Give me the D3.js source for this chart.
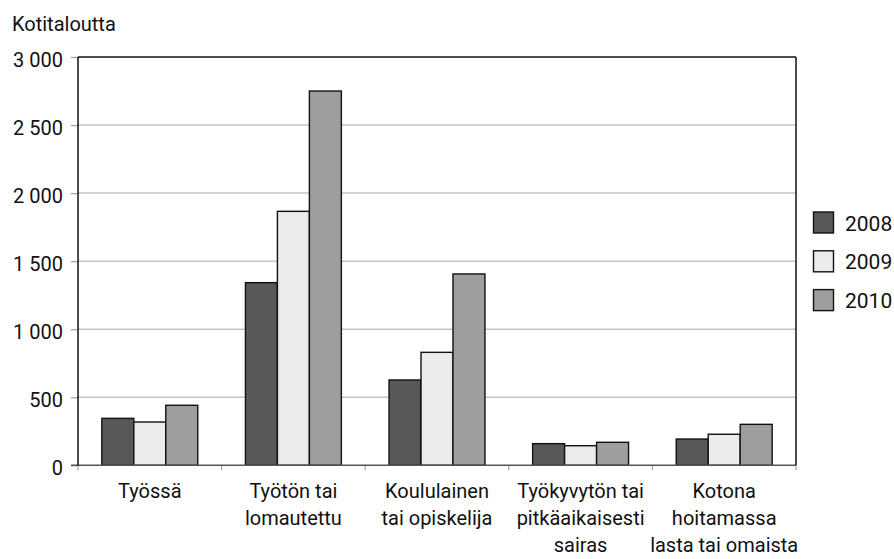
<!DOCTYPE html>
<html><head><meta charset="utf-8">
<script src="https://cdnjs.cloudflare.com/ajax/libs/d3/7.8.5/d3.min.js"></script>
<style>
html,body{margin:0;padding:0;background:#fff;}
text{font-family:Roboto,"Noto Sans",sans-serif;fill:#111;}
</style></head>
<body>
<svg id="chart" width="894" height="559"></svg>
<script>
const categories = [
  ["Työssä"],
  ["Työtön tai", "lomautettu"],
  ["Koululainen", "tai opiskelija"],
  ["Työkyvytön tai", "pitkäaikaisesti", "sairas"],
  ["Kotona", "hoitamassa", "lasta tai omaista"]
];
const seriesNames = ["2008", "2009", "2010"];
const values2008 = [345, 1342, 627, 159, 193];
const values2009 = [318, 1866, 830, 144, 228];
const values2010 = [441, 2750, 1406, 169, 301];
const yTicks = [0, 500, 1000, 1500, 2000, 2500, 3000];
const yTitle = "Kotitaloutta";
const colors = ["#58585a", "#eaeceb", "#9d9e9f"];

const series = [values2008, values2009, values2010];
const svg = d3.select("#chart");
const L = 78, R = 796, T = 57, B = 465.3;

const x0 = d3.scaleBand().domain(d3.range(categories.length)).range([L, R])
  .paddingInner(0.332).paddingOuter(0.166);
const x1 = d3.scaleBand().domain(d3.range(seriesNames.length)).range([0, x0.bandwidth()]).padding(0);
const y = d3.scaleLinear().domain([0, 3000]).range([B, T]);
const fmt = d => d3.format(",")(d).replace(/,/g, " ");

// gridlines
svg.append("g").selectAll("line").data(yTicks.filter(d => d > 0 && d < 3000)).join("line")
  .attr("x1", L).attr("x2", R).attr("y1", d => y(d)).attr("y2", d => y(d))
  .attr("stroke", "#c4c4c4").attr("stroke-width", 1.5);

// y axis
const yAxis = d3.axisLeft(y).tickValues(yTicks).tickSize(7).tickPadding(8).tickFormat(fmt);
const gy = svg.append("g").attr("transform", `translate(${L},0)`).call(yAxis);
gy.select(".domain").remove();
gy.selectAll(".tick line").attr("stroke", "#a0a0a0").attr("stroke-width", 1.2);
gy.selectAll(".tick text").attr("font-size", 20).attr("fill", "#111")
  .attr("dy", "0.45em").attr("font-family", "Roboto");

// bars
const g = svg.append("g");
series.forEach((vals, si) => {
  g.append("g").selectAll("rect").data(vals).join("rect")
    .attr("x", (d, i) => x0(i) + x1(si))
    .attr("y", d => y(d))
    .attr("width", x1.bandwidth())
    .attr("height", d => y(0) - y(d))
    .attr("fill", colors[si])
    .attr("stroke", "#111").attr("stroke-width", 1.4);
});

// x axis ticks at band boundaries
const step = x0.step();
const bounds = d3.range(categories.length + 1).map(i => L + i * step);
svg.append("g").selectAll("line").data(bounds).join("line")
  .attr("x1", d => d).attr("x2", d => d).attr("y1", B).attr("y2", B + 5)
  .attr("stroke", "#a0a0a0").attr("stroke-width", 1.2);
svg.append("line").attr("x1", L - 7).attr("x2", R).attr("y1", B).attr("y2", B)
  .attr("stroke", "#555").attr("stroke-width", 1.4);

// frame
svg.append("line").attr("x1", L).attr("x2", R).attr("y1", T).attr("y2", T).attr("stroke", "#111").attr("stroke-width", 1.5);
svg.append("line").attr("x1", L).attr("x2", L).attr("y1", T).attr("y2", B).attr("stroke", "#111").attr("stroke-width", 1.5);
svg.append("line").attr("x1", R).attr("x2", R).attr("y1", T).attr("y2", B).attr("stroke", "#111").attr("stroke-width", 1.5);

// category labels
categories.forEach((lines, i) => {
  const cx = x0(i) + x0.bandwidth() / 2;
  const t = svg.append("text").attr("text-anchor", "middle").attr("font-size", 20)
    .attr("x", cx).attr("y", 498);
  lines.forEach((ln, j) => {
    t.append("tspan").attr("x", cx).attr("dy", j === 0 ? 0 : 27).text(ln);
  });
});

// y title
svg.append("text").attr("x", 12).attr("y", 30.5).attr("font-size", 20).text(yTitle);

// legend
const lg = svg.append("g");
seriesNames.forEach((s, i) => {
  const yy = 212 + i * 38.8;
  lg.append("rect").attr("x", 813.5).attr("y", yy).attr("width", 20).attr("height", 21)
    .attr("fill", colors[i]).attr("stroke", "#111").attr("stroke-width", 1.4);
  lg.append("text").attr("x", 845).attr("y", yy + 18.5).attr("font-size", 21).text(s);
});
</script>
</body></html>
